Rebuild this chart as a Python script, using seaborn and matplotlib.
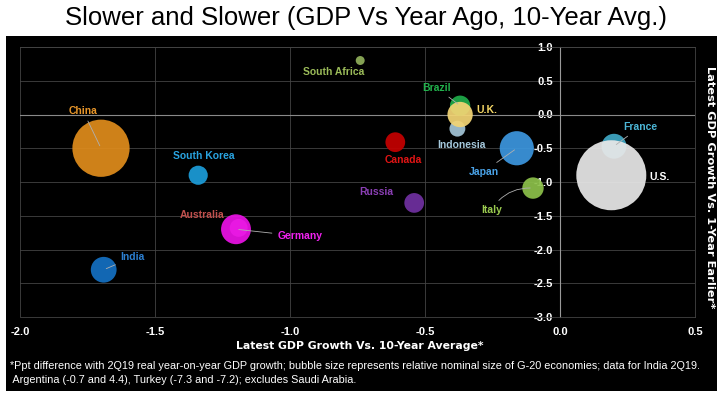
import matplotlib
matplotlib.use("Agg")
import matplotlib.pyplot as plt
from matplotlib.patches import Rectangle
import pandas as pd
import seaborn as sns

# Data
countries = ["China", "South Korea", "India", "Australia", "Germany", "South Africa",
             "Brazil", "Indonesia", "U.K.", "Canada", "Russia", "Japan", "Italy",
             "France", "U.S."]
vs_10yr_avg = [-1.70, -1.34, -1.69, -1.19, -1.20, -0.74, -0.37, -0.38, -0.37,
               -0.61, -0.54, -0.16, -0.10, 0.20, 0.19]
vs_1yr_ago = [-0.50, -0.90, -2.30, -1.68, -1.70, 0.80, 0.13, -0.21, 0.00,
              -0.41, -1.31, -0.50, -1.09, -0.47, -0.90]
nominal_size = [14.3, 1.6, 2.9, 1.4, 3.9, 0.35, 1.8, 1.1, 2.8, 1.7, 1.7, 5.1, 2.0, 2.7, 21.4]

bubble_colors = ["#df8c1c", "#1c9cd8", "#1470c2", "#e070e0", "#ea12e4", "#8fae5a",
                 "#1fab4a", "#a2c4d6", "#f2d474", "#c40000", "#7030a0", "#3c96de",
                 "#8cc04a", "#3fa7c4", "#e8e8e8"]
label_colors = ["#e8962a", "#29a3e0", "#2c7fd0", "#c0504d", "#ee22ee", "#9bbb59",
                "#22b14c", "#a5c8dc", "#f5d766", "#e01414", "#8b3fb5", "#4aa3e8",
                "#9bcb50", "#4cb6d6", "#ffffff"]
# label offsets (points) from bubble centre, and whether a leader line is drawn
label_offsets = [(-13, 27), (4, 14), (21, 9), (-26, 9), (46, -5), (-19, -8),
                 (-17, 13), (3, -12), (19, 3), (6, -13), (-27, 8), (-24, -17),
                 (-30, -16), (19, 14), (35, -1)]
leaders = [True, False, True, False, True, False, True, False, False, False,
           False, True, True, True, False]

x_ticks = [-2.0, -1.5, -1.0, -0.5, 0.0, 0.5]
y_ticks = [1.0, 0.5, 0.0, -0.5, -1.0, -1.5, -2.0, -2.5, -3.0]

df = pd.DataFrame({"country": countries, "x": vs_10yr_avg, "y": vs_1yr_ago,
                   "size": nominal_size})

W, H = 722, 393
fig = plt.figure(figsize=(W / 100, H / 100), dpi=100)
fig.patch.set_facecolor("white")
fig.patches.append(Rectangle((6 / W, 2 / H), 711 / W, 355 / H, transform=fig.transFigure,
                             facecolor="black", edgecolor="none", zorder=-5))

ax = fig.add_axes([20 / W, 1 - 317 / H, 675 / W, 270 / H])
ax.set_facecolor("black")

sns.scatterplot(data=df, x="x", y="y", hue="country", size="size",
                palette=dict(zip(countries, bubble_colors)),
                sizes=(0, 2540), size_norm=(0, 21.4), alpha=0.93,
                linewidth=0, legend=False, ax=ax, zorder=3)

for i, c in enumerate(countries):
    arrow = dict(arrowstyle="-", color="#b0b0b0", lw=0.6,
                 connectionstyle="arc3,rad=-0.3" if c == "Italy" else "arc3") if leaders[i] else None
    ax.annotate(c, (vs_10yr_avg[i], vs_1yr_ago[i]), xytext=label_offsets[i],
                textcoords="offset points", ha="center", va="center",
                color=label_colors[i], fontsize=7.5, fontweight="bold",
                family="Liberation Sans", arrowprops=arrow, zorder=4)

ax.set_xlim(-2.0, 0.5)
ax.set_ylim(-3.0, 1.0)
ax.set_xticks(x_ticks)
ax.set_yticks(y_ticks)
ax.set_xticklabels([f"{v:.1f}" for v in x_ticks])
ax.set_yticklabels([f"{v:.1f}" for v in y_ticks])
ax.grid(True, color="#444444", lw=0.6)
ax.set_axisbelow(True)
ax.axhline(0, color="#8a8a8a", lw=0.8, zorder=1)
ax.spines["left"].set_position(("data", 0))
ax.spines["left"].set_color("#9a9a9a")
ax.spines["left"].set_linewidth(0.8)
for s in ["top", "right", "bottom"]:
    ax.spines[s].set_color("#444444")
    ax.spines[s].set_linewidth(0.6)
ax.tick_params(length=0, colors="white", labelsize=8)
ax.tick_params(axis="x", pad=7)
ax.tick_params(axis="y", pad=5)
for t in ax.get_xticklabels() + ax.get_yticklabels():
    t.set_fontweight("bold")
    t.set_family("Liberation Sans")
ax.set_xlabel("")
ax.set_ylabel("")

fig.text(366 / W, 1 - 18 / H, "Slower and Slower (GDP Vs Year Ago, 10-Year Avg.)",
         ha="center", va="center", fontsize=18.5, family="Liberation Sans", color="black")
fig.text(360 / W, 1 - 346 / H, "Latest GDP Growth Vs. 10-Year Average*", ha="center",
         va="center", fontsize=7.8, fontweight="bold", color="white", family="DejaVu Sans")
fig.text(710 / W, 1 - 187 / H, "Latest GDP Growth Vs. 1-Year Earlier*", ha="center",
         va="center", rotation=-90, fontsize=8.2, fontweight="bold", color="white",
         family="DejaVu Sans")
foot = ["*Ppt difference with 2Q19 real year-on-year GDP growth; bubble size represents "
        "relative nominal size of G-20 economies; data for India 2Q19.",
        " Argentina (-0.7 and 4.4), Turkey (-7.3 and -7.2); excludes Saudi Arabia."]
fig.text(10 / W, 1 - 366 / H, foot[0], ha="left", va="center", fontsize=7.8,
         color="white", family=["Liberation Sans Narrow", "Liberation Sans"])
fig.text(10 / W, 1 - 380 / H, foot[1], ha="left", va="center", fontsize=7.8,
         color="white", family=["Liberation Sans Narrow", "Liberation Sans"])

fig.savefig("out.png", dpi=100, facecolor="white")
